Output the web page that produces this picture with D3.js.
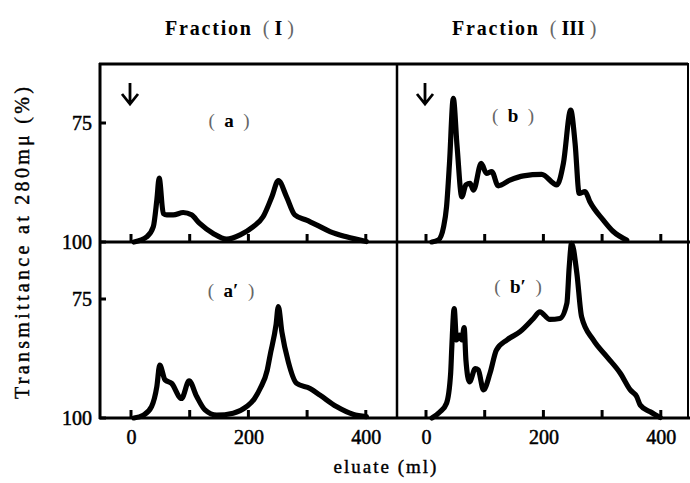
<!DOCTYPE html>
<html>
<head>
<meta charset="utf-8">
<script src="https://cdn.jsdelivr.net/npm/d3@7"></script>
<style>
  body { margin: 0; background: #fff; }
  svg text { font-family: "Liberation Serif", "DejaVu Serif", serif; fill: #000; }
</style>
</head>
<body>
<div id="content"></div>
<script>
// eluate volume (ml) and transmittance (%)
var aMl  = [5, 27, 38, 44, 48, 55, 61, 72, 89, 103, 117, 140, 163, 186, 208, 225, 240, 251, 265, 279, 299, 316, 339, 367, 401];
var aT   = [100, 98.9, 96.8, 91.2, 86.6, 94.0, 94.3, 94.3, 93.8, 94.3, 96.1, 98.2, 99.4, 98.5, 96.8, 94.7, 90.5, 87.1, 90.5, 94.3, 95.4, 96.4, 97.8, 98.9, 99.9];

var bMl  = [10, 21, 30, 35, 40, 46.5, 53, 61, 68, 75, 81, 94, 103, 112, 123, 143, 166, 197, 223, 234, 246.5, 254, 261, 271, 279, 302, 319, 342];
var bT   = [100, 99.6, 96.8, 92.6, 83.5, 69.8, 80.0, 90.5, 88.0, 87.7, 89.1, 83.5, 85.6, 85.2, 88.2, 87.0, 86.1, 85.8, 88.0, 83.5, 72.3, 79.3, 89.8, 89.4, 91.5, 95.4, 97.8, 99.6];

var a2Ml = [5, 21, 35, 44, 49, 58, 69, 86, 99, 112, 126, 146, 174, 197, 210, 220, 232, 237, 247, 251, 257, 268, 282, 305, 322, 350, 378, 401];
var a2T  = [100, 99.4, 97.6, 93.4, 88.9, 92.0, 92.7, 95.9, 92.2, 95.5, 98.3, 99.4, 99.0, 97.6, 96.0, 93.8, 90.0, 86.8, 80.5, 76.6, 81.9, 88.2, 92.7, 93.8, 95.2, 97.6, 99.2, 99.7];

var b2Ml = [10, 24, 35, 42, 44, 48, 52, 57, 61, 65, 68, 74, 84, 89, 98, 109, 120, 138, 160, 183, 194, 211, 228, 240, 244, 248, 257, 265, 285, 308, 331, 348, 359, 365, 382, 399];
var b2T  = [100, 98.7, 96.9, 90.6, 85.0, 77.0, 83.6, 82.6, 83.6, 81.0, 87.8, 92.4, 89.6, 89.9, 94.1, 90.6, 85.7, 83.6, 81.9, 79.1, 77.7, 79.3, 79.1, 75.9, 68.2, 63.3, 69.6, 78.7, 83.6, 87.1, 90.6, 94.1, 95.5, 97.3, 98.7, 99.9];

var xTicks = [0, 100, 200, 300, 400];
var xTickLabels = [0, 200, 400];
var yTicks = [75, 100];

var panelNames = ["a", "b", "a\u2032", "b\u2032"];
var colTitles = ["I", "III"];

var w = 690, h = 483;

var svg = d3.select("#content").append("svg")
    .attr("width", w)
    .attr("height", h);

var cols = [{x0: 100, x1: 397, zero: 131}, {x0: 397, x1: 688, zero: 426}];
var rows = [{y0: 64, y1: 242}, {y0: 242, y1: 418}];
var mlPx = 0.587; // px per ml

var panels = [
  {col: 0, row: 0, ml: aMl, t: aT, name: panelNames[0], lx: 229, ly: 127},
  {col: 1, row: 0, ml: bMl, t: bT, name: panelNames[1], lx: 513, ly: 122},
  {col: 0, row: 1, ml: a2Ml, t: a2T, name: panelNames[2], lx: 231, ly: 297},
  {col: 1, row: 1, ml: b2Ml, t: b2T, name: panelNames[3], lx: 518, ly: 293}
];

// frame
var frame = svg.append("g").attr("stroke", "#000").attr("fill", "none");
frame.append("line").attr("x1", 99).attr("x2", 688).attr("y1", 64).attr("y2", 64).attr("stroke-width", 3);
frame.append("line").attr("x1", 100).attr("x2", 100).attr("y1", 63).attr("y2", 419).attr("stroke-width", 3);
frame.append("line").attr("x1", 397).attr("x2", 397).attr("y1", 63).attr("y2", 419).attr("stroke-width", 2.5);
frame.append("line").attr("x1", 688).attr("x2", 688).attr("y1", 63).attr("y2", 419).attr("stroke-width", 2);
frame.append("line").attr("x1", 99).attr("x2", 690).attr("y1", 242).attr("y2", 242).attr("stroke-width", 3);
frame.append("line").attr("x1", 99).attr("x2", 690).attr("y1", 418).attr("y2", 418).attr("stroke-width", 3);

panels.forEach(function(p) {
  var c = cols[p.col], r = rows[p.row];
  var x = d3.scaleLinear()
      .domain([(c.x0 - c.zero) / mlPx, (c.x1 - c.zero) / mlPx])
      .range([c.x0, c.x1]);
  var y = d3.scaleLinear()
      .domain([100, 75])
      .range([r.y1, r.y1 - 119]);

  // little ticks pointing up from the baseline
  svg.append("g").selectAll("line")
     .data(xTicks)
     .enter()
     .append("line")
     .attr("x1", function(d) { return x(d); })
     .attr("x2", function(d) { return x(d); })
     .attr("y1", r.y1)
     .attr("y2", r.y1 - 8)
     .attr("stroke", "#000")
     .attr("stroke-width", 3);

  if (p.row == 1) {
    var gl = svg.append("g")
        .attr("transform", "translate(0," + r.y1 + ")")
        .call(d3.axisBottom(x).tickValues(xTickLabels).tickSize(0).tickPadding(12));
    gl.select(".domain").remove();
    gl.selectAll("text")
      .attr("font-size", 20)
      .attr("font-family", "Liberation Serif")
      .attr("fill", "#000")
      .attr("stroke", "#000")
      .attr("stroke-width", 0.5)
      .attr("dy", "0.72em");
  }

  if (p.col == 0) {
    svg.append("g").selectAll("line")
       .data(yTicks)
       .enter()
       .append("line")
       .attr("x1", c.x0)
       .attr("x2", c.x0 + 6)
       .attr("y1", function(d) { return y(d); })
       .attr("y2", function(d) { return y(d); })
       .attr("stroke", "#000")
       .attr("stroke-width", 3);

    var gy = svg.append("g")
        .attr("transform", "translate(" + c.x0 + ",0)")
        .call(d3.axisLeft(y).tickValues(yTicks).tickSize(0).tickPadding(8));
    gy.select(".domain").remove();
    gy.selectAll("text")
      .attr("font-size", 20)
      .attr("font-family", "Liberation Serif")
      .attr("fill", "#000")
      .attr("stroke", "#000")
      .attr("stroke-width", 0.5);
  }

  var line = d3.line()
      .curve(d3.curveMonotoneX)
      .x(function(d) { return x(d[0]); })
      .y(function(d) { return y(d[1]); });

  svg.append("path")
     .datum(d3.zip(p.ml, p.t))
     .attr("d", line)
     .attr("fill", "none")
     .attr("stroke", "#000")
     .attr("stroke-width", 5.2)
     .attr("stroke-linejoin", "round")
     .attr("stroke-linecap", "round");

  // sample-application arrow on the top row
  if (p.row == 0) {
    var ax = x(0) - 1, ay = r.y0 + 19;
    svg.append("path")
       .attr("d", "M" + ax + "," + ay + "V" + (ay + 21) +
                  "M" + (ax - 8) + "," + (ay + 11) + "L" + ax + "," + (ay + 21) + "L" + (ax + 8) + "," + (ay + 11))
       .attr("fill", "none")
       .attr("stroke", "#000")
       .attr("stroke-width", 2.8);
  }

  var lab = svg.append("text")
      .attr("x", p.lx)
      .attr("y", p.ly)
      .attr("text-anchor", "middle")
      .attr("font-size", 19)
      .attr("xml:space", "preserve");
  lab.append("tspan").attr("fill", "#666").text("(  ");
  lab.append("tspan").attr("font-weight", "bold").text(p.name);
  lab.append("tspan").attr("fill", "#666").text("  )");
});

// column titles
[{x: 165, t: colTitles[0]}, {x: 452, t: colTitles[1]}].forEach(function(d) {
  var t = svg.append("text")
      .attr("x", d.x)
      .attr("y", 35)
      .attr("font-size", 20)
      .attr("xml:space", "preserve");
  t.append("tspan").attr("font-weight", "bold").attr("letter-spacing", 1.8).text("Fraction");
  t.append("tspan").attr("fill", "#666").text("  (");
  t.append("tspan").attr("font-weight", "bold").text(" " + d.t);
  t.append("tspan").attr("fill", "#666").text(" )");
});

// axis titles
svg.append("text")
   .attr("transform", "translate(29,243) rotate(-90)")
   .attr("text-anchor", "middle")
   .attr("font-size", 20)
   .attr("stroke", "#000")
   .attr("stroke-width", 0.4)
   .attr("textLength", 312)
   .attr("lengthAdjust", "spacing")
   .text("Transmittance at 280m\u03bc (%)");

svg.append("text")
   .attr("x", 386)
   .attr("y", 473)
   .attr("text-anchor", "middle")
   .attr("font-size", 19)
   .attr("stroke", "#000")
   .attr("stroke-width", 0.4)
   .attr("letter-spacing", 2)
   .text("eluate (ml)");
</script>
</body>
</html>
